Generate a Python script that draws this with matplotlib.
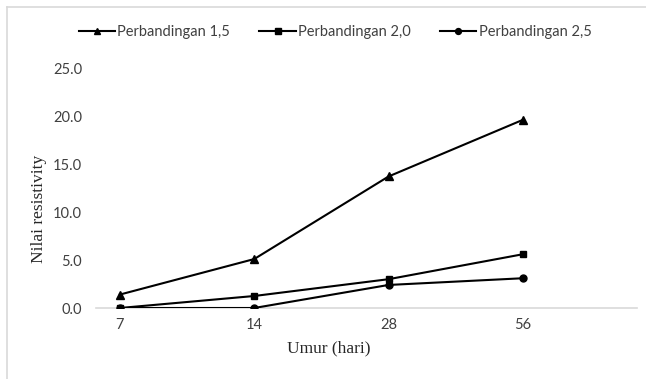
import matplotlib
matplotlib.use("Agg")
import matplotlib.pyplot as plt
from matplotlib.lines import Line2D

categories = ["7", "14", "28", "56"]
s15 = [1.4, 5.1, 13.7, 19.6]
s20 = [0.0, 1.25, 3.0, 5.6]
s25 = [0.0, 0.0, 2.4, 3.1]
yticks = [0, 5, 10, 15, 20, 25]

W, H = 646, 379
fig = plt.figure(figsize=(W / 100, H / 100), dpi=100)
ax = fig.add_axes([96 / W, 1 - 308 / H, (637 - 96) / W, (308 - 68) / H])

x = list(range(len(categories)))
ax.plot(x, s15, color="black", lw=1.5, marker="^", ms=5.5, label="Perbandingan 1,5", zorder=3)
ax.plot(x, s20, color="black", lw=1.5, marker="s", ms=5, label="Perbandingan 2,0", zorder=3)
ax.plot(x, s25, color="black", lw=1.5, marker="o", ms=5, label="Perbandingan 2,5", zorder=3)

ax.set_xlim(-0.178, 3.85)
ax.set_ylim(0, 25)
ax.set_xticks(x)
ax.set_xticklabels(categories)
ax.set_yticks(yticks)
ax.set_yticklabels([f"{v:.1f}" for v in yticks])

for sp in ["top", "right", "left"]:
    ax.spines[sp].set_visible(False)
ax.spines["bottom"].set_color("#d9d9d9")
ax.spines["bottom"].set_linewidth(1.2)
ax.tick_params(axis="both", length=0, labelsize=10.5, labelcolor="#404040")
ax.tick_params(axis="x", pad=7)
ax.tick_params(axis="y", pad=10)
for lbl in ax.get_xticklabels() + ax.get_yticklabels():
    lbl.set_fontfamily("Lato")

fig.text(39 / W, 1 - 209 / H, "Nilai resistivity", rotation=90, ha="center", va="center",
         fontfamily="Liberation Serif", fontsize=12.5, color="#262626")
fig.text(329 / W, 1 - 348 / H, "Umur (hari)", ha="center", va="center",
         fontfamily="Liberation Serif", fontsize=12.5, color="#262626")

leg = fig.legend(loc="center", bbox_to_anchor=(335 / W, 1 - 32 / H), ncol=3, frameon=False,
                 prop={"family": "Lato", "size": 10.5}, handlelength=2.5, columnspacing=2.0,
                 handletextpad=0.15, markerscale=0.85)
for t in leg.get_texts():
    t.set_color("#404040")

# light frame (left and top visible)
fig.add_artist(Line2D([7 / W, 7 / W], [0, 1 - 7 / H], color="#d9d9d9", lw=1.2, transform=fig.transFigure))
fig.add_artist(Line2D([7 / W, 1], [1 - 7 / H, 1 - 7 / H], color="#d9d9d9", lw=1.2, transform=fig.transFigure))

fig.savefig("out.png", dpi=100)
